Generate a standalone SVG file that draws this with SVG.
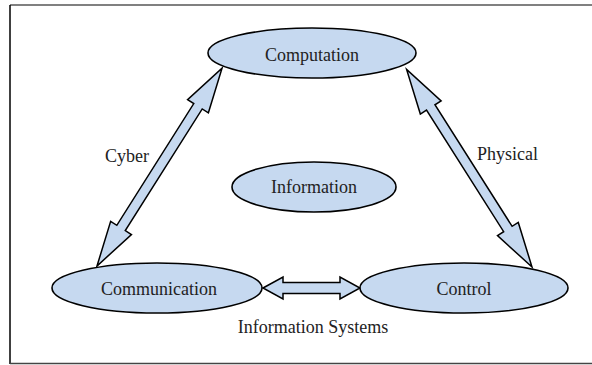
<svg xmlns="http://www.w3.org/2000/svg" width="592" height="365" viewBox="0 0 592 365">
<style>
.node{fill:#c6d9f0;stroke:#000;stroke-width:1.6}
.arr{fill:#c6d9f0;stroke:#000;stroke-width:1.5;stroke-linejoin:miter}
text{font-family:"Liberation Serif","Times New Roman",serif;font-size:18px;fill:#222}
.c{text-anchor:middle}
</style>
<defs>
<polygon id="diag" class="arr" points="0,0 45,-12.3 45,-5 189,-5 189,-12.3 234,0 189,12.3 189,5 45,5 45,12.3"/>
</defs>
<rect x="0" y="0" width="592" height="365" fill="#fff"/>
<g id="frame">
<line x1="10" y1="5" x2="592" y2="5" stroke="#808080" stroke-width="2"/>
<line x1="10" y1="5" x2="10" y2="364" stroke="#000" stroke-width="1.5"/>
<line x1="10" y1="363.5" x2="592" y2="363.5" stroke="#444" stroke-width="1.5"/>
</g>
<g id="connectors">
<use href="#diag" transform="translate(97,266) rotate(-57.7)"/>
<use href="#diag" transform="translate(532,267) rotate(-122.4)"/>
<polygon class="arr" points="263,288 283,277 283,282.5 340,282.5 340,277 360,288 340,299 340,293.5 283,293.5 283,299"/>
<text x="105" y="162">Cyber</text>
<text x="477" y="160">Physical</text>
<text class="c" x="313" y="333">Information Systems</text>
</g>
<g id="computation">
<ellipse class="node" cx="312" cy="53" rx="104" ry="25"/>
<text class="c" x="312" y="61">Computation</text>
</g>
<g id="information">
<ellipse class="node" cx="314" cy="187" rx="82" ry="25"/>
<text class="c" x="314" y="193">Information</text>
</g>
<g id="communication">
<ellipse class="node" cx="157" cy="288" rx="105" ry="25"/>
<text class="c" x="159" y="295">Communication</text>
</g>
<g id="control">
<ellipse class="node" cx="464" cy="288" rx="104" ry="25"/>
<text class="c" x="464" y="295">Control</text>
</g>
</svg>
